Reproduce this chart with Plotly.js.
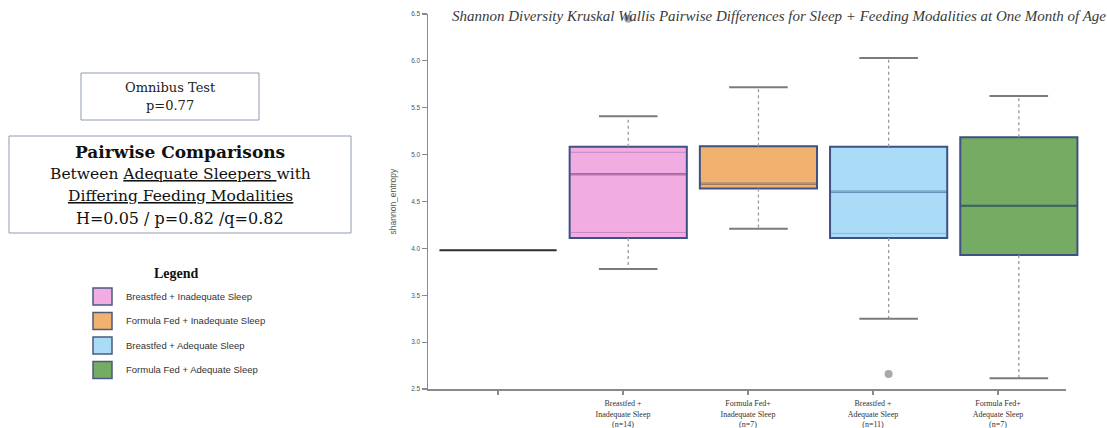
<!DOCTYPE html>
<html>
<head>
<meta charset="utf-8">
<script src="https://cdn.plot.ly/plotly-3.0.1.min.js"></script>
<style>
  html, body { margin: 0; padding: 0; background: #ffffff; }
  #chart { width: 1107px; height: 428px; }
</style>
</head>
<body>
<div id="chart"></div>
<script>
// ---- data ---------------------------------------------------------------
const categories = [
  '',
  'Breastfed +<br>Inadequate Sleep<br>(n=14)',
  'Formula Fed+<br>Inadequate Sleep<br>(n=7)',
  'Breastfed +<br>Adequate Sleep<br>(n=11)',
  'Formula Fed+<br>Adequate Sleep<br>(n=7)'
];
const groupNames = [
  '',
  'Breastfed + Inadequate Sleep',
  'Formula Fed + Inadequate Sleep',
  'Breastfed + Adequate Sleep',
  'Formula Fed + Adequate Sleep'
];
const q1          = [3.98, 4.11, 4.64, 4.11, 3.93];
const median      = [3.98, 4.79, 4.69, 4.605, 4.455];
const q3          = [3.98, 5.085, 5.09, 5.085, 5.185];
const whiskerLow  = [null, 3.78, 4.21, 3.25, 2.615];
const whiskerHigh = [null, 5.41, 5.72, 6.03, 5.625];
// faint inner hinge lines visible inside some boxes
const innerLow    = [null, 4.17, null, 4.16, null];
const innerHigh   = [null, 5.025, null, null, null];
const outlierGroup = [1, 3];
const outlierValue = [6.45, 2.66];

const omnibusText = ['Omnibus Test', 'p=0.77'];
const pairwiseText = [
  '<b>Pairwise Comparisons</b>',
  'Between <u>Adequate Sleepers </u>with',
  '<u>Differing Feeding Modalities</u>',
  'H=0.05 / p=0.82 /q=0.82'
];

// ---- styles -------------------------------------------------------------
const fills   = ['rgba(0,0,0,0)', '#f1ade1', '#f0b26e', '#aadcf8', '#75ab62'];
const edges   = ['#2e2e2e', '#3d5283', '#3d5283', '#3d5283', '#3d5283'];
const mids    = ['#2e2e2e', '#b977b3', '#c98b4f', '#79b0d0', '#3f6f36'];
const pairwiseSizes = [17, 15.5, 15.5, 16];
const BOX_W = 0.9;

// page-pixel helpers for the side panel (plot area spans L..R, T..B)
const L = 428, R = 1095, T = 14, B = 389;
const px = x => (x - L) / (R - L);
const py = y => (B - y) / (B - T);

const traces = [];

// boxes (whiskers are drawn separately as dotted stems)
groupNames.forEach((name, i) => {
  traces.push({
    type: 'box', name: name || 'group 0',
    x: [i], q1: [q1[i]], median: [median[i]], q3: [q3[i]],
    lowerfence: [q1[i]], upperfence: [q3[i]],
    width: BOX_W, boxpoints: false,
    fillcolor: fills[i], line: { color: edges[i], width: i === 0 ? 1.8 : 2 },
    hoverinfo: 'skip', showlegend: false, xaxis: 'x', yaxis: 'y'
  });
});

// whisker stems and caps
const stemX = [], stemY = [], capX = [], capY = [];
groupNames.forEach((_, i) => {
  if (whiskerLow[i] === null) return;
  stemX.push(i, i, null, i, i, null);
  stemY.push(q3[i], whiskerHigh[i], null, q1[i], whiskerLow[i], null);
  const h = BOX_W / 4;
  capX.push(i - h, i + h, null, i - h, i + h, null);
  capY.push(whiskerHigh[i], whiskerHigh[i], null, whiskerLow[i], whiskerLow[i], null);
});
traces.push({ type: 'scatter', mode: 'lines', x: stemX, y: stemY,
  line: { color: '#9a9a9a', width: 1.3, dash: 'dot' }, hoverinfo: 'skip', showlegend: false });
traces.push({ type: 'scatter', mode: 'lines', x: capX, y: capY,
  line: { color: '#7b7b7b', width: 2 }, hoverinfo: 'skip', showlegend: false });

// inner hinge lines and median lines in a darker shade of each fill
groupNames.forEach((_, i) => {
  if (i === 0) return;
  const h = BOX_W / 2 - 0.008;
  [innerLow[i], innerHigh[i]].forEach(v => {
    if (v === null) return;
    traces.push({ type: 'scatter', mode: 'lines',
      x: [i - h, i + h], y: [v, v],
      line: { color: mids[i], width: 1 }, opacity: 0.75, hoverinfo: 'skip', showlegend: false });
  });
  traces.push({ type: 'scatter', mode: 'lines',
    x: [i - h, i + h], y: [median[i], median[i]],
    line: { color: mids[i], width: 1.6 }, hoverinfo: 'skip', showlegend: false });
});

// outliers
traces.push({ type: 'scatter', mode: 'markers', x: outlierGroup, y: outlierValue,
  marker: { color: '#a9a9a9', size: 8 }, hoverinfo: 'skip', showlegend: false });

// carrier for the labelled category axis
traces.push({ type: 'scatter', x: [], y: [], xaxis: 'x2', yaxis: 'y', showlegend: false, hoverinfo: 'skip' });

// ---- side panel: test summaries and legend ---------------------------------
const shapes = [];
const annotations = [];
const serif = 'DejaVu Serif';

shapes.push({ type: 'rect', xref: 'paper', yref: 'paper',
  x0: px(81), x1: px(259), y0: py(73), y1: py(120),
  line: { color: '#8e9cae', width: 1 }, fillcolor: 'rgba(0,0,0,0)' });
omnibusText.forEach((t, k) => {
  annotations.push({ xref: 'paper', yref: 'paper', x: px(170), y: py(87 + k * 18),
    text: t, showarrow: false, xanchor: 'center', yanchor: 'middle',
    font: { family: serif, size: 13, color: '#222' } });
});

shapes.push({ type: 'rect', xref: 'paper', yref: 'paper',
  x0: px(9), x1: px(351), y0: py(136), y1: py(233),
  line: { color: '#8e9cae', width: 1 }, fillcolor: 'rgba(0,0,0,0)' });
pairwiseText.forEach((t, k) => {
  annotations.push({ xref: 'paper', yref: 'paper', x: px(180), y: py(152 + k * 22),
    text: t, showarrow: false, xanchor: 'center', yanchor: 'middle',
    font: { family: serif, size: pairwiseSizes[k], color: '#111' } });
});

annotations.push({ xref: 'paper', yref: 'paper', x: px(176), y: py(273),
  text: '<b>Legend</b>', showarrow: false, xanchor: 'center', yanchor: 'middle',
  font: { family: 'Liberation Serif', size: 14, color: '#111' } });
groupNames.slice(1).forEach((name, k) => {
  const i = k + 1;
  const top = 288 + k * 24.5;
  shapes.push({ type: 'rect', xref: 'paper', yref: 'paper',
    x0: px(93), x1: px(112), y0: py(top), y1: py(top + 17),
    line: { color: '#4a5a80', width: 1.5 }, fillcolor: fills[i] });
  annotations.push({ xref: 'paper', yref: 'paper', x: px(124), y: py(top + 8),
    text: name, showarrow: false, xanchor: 'left', yanchor: 'middle',
    font: { family: 'Liberation Sans', size: 9.5, color: '#333' } });
});

// y-axis title
annotations.push({ xref: 'paper', yref: 'paper', x: px(392), y: 0.5,
  text: 'shannon_entropy', textangle: -90, showarrow: false,
  xanchor: 'center', yanchor: 'middle',
  font: { family: 'Liberation Sans', size: 8.5, color: '#555' } });

// ---- layout -------------------------------------------------------------
const layout = {
  width: 1107, height: 428,
  margin: { l: L, r: 1107 - R, t: T, b: 428 - B, pad: 0 },
  paper_bgcolor: '#ffffff', plot_bgcolor: 'rgba(0,0,0,0)',
  showlegend: false, boxmode: 'overlay',
  title: {
    text: '<i>Shannon Diversity Kruskal Wallis Pairwise Differences for Sleep + Feeding Modalities at One Month of Age</i>',
    xref: 'container', yref: 'container', x: 779 / 1107, y: 1 - 16 / 428,
    xanchor: 'center', yanchor: 'middle',
    font: { family: 'Liberation Serif', size: 15, color: '#3a3a3a' }
  },
  xaxis: { domain: [0, 1], range: [-0.538, 4.585], visible: false, fixedrange: true },
  xaxis2: {
    domain: [0, 0.9565], anchor: 'y', range: [-0.56, 4.544],
    tickmode: 'array', tickvals: categories.map((_, i) => i), ticktext: categories,
    showline: true, linecolor: '#8a8a8a', linewidth: 1.5,
    ticks: 'outside', ticklen: 4, tickwidth: 1.2, tickcolor: '#8a8a8a',
    ticklabelstandoff: 2,
    showgrid: false, zeroline: false, fixedrange: true,
    tickfont: { family: 'Liberation Serif', size: 8, color: '#333' }
  },
  yaxis: {
    anchor: 'x', range: [2.5, 6.5], tickmode: 'linear', tick0: 2.5, dtick: 0.5,
    tickformat: '.1f', showline: true, linecolor: '#8a8a8a', linewidth: 1.5,
    ticks: 'outside', ticklen: 5, tickwidth: 1.2, tickcolor: '#8a8a8a',
    showgrid: false, zeroline: false, fixedrange: true,
    tickfont: { family: 'Liberation Sans', size: 6.5, color: '#555' }
  },
  shapes: shapes,
  annotations: annotations
};

Plotly.newPlot('chart', traces, layout, { staticPlot: true, displayModeBar: false });
</script>
</body>
</html>
